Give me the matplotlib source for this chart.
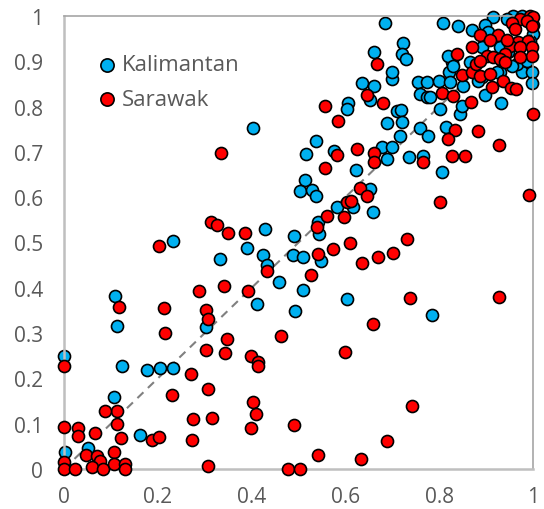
import numpy as np
from matplotlib import pyplot as plt

# Kalimantan (blue) points
kal_x = [0.233, 0.333, 0.390, 0.425, 0.433, 0.459, 0.489, 0.411, 0.109, 0.112,
         0.302, 0.000, 0.123, 0.178, 0.205, 0.233, 0.107, 0.162, 0.002, 0.052,
         0.490, 0.544, 0.510, 0.549, 0.510, 0.603, 0.785, 0.493, 0.429, 0.583,
         0.542, 0.635, 0.662, 0.652, 0.699, 0.755, 0.773, 0.758, 0.773, 0.605,
         0.603, 0.709, 0.718, 0.720, 0.688, 0.716, 0.759, 0.777, 0.537, 0.517,
         0.576, 0.677, 0.699, 0.688, 0.736, 0.766, 0.622, 0.514, 0.503, 0.528,
         0.537, 0.652, 0.617, 0.658, 0.685, 0.809, 0.841, 0.871, 0.722, 0.720,
         0.729, 0.662, 0.700, 0.800, 0.780, 0.802, 0.844, 0.814, 0.932, 0.805,
         0.848, 0.821, 0.930, 0.977, 0.997, 0.997, 0.965, 0.827, 0.915, 0.898,
         0.958, 0.976, 1.000, 0.994, 0.937, 0.955, 0.987, 0.819, 0.830, 0.866,
         0.891, 0.923, 0.402, 0.905, 0.891, 0.947, 0.883, 0.851, 0.930, 1.000,
         0.944, 0.823, 0.898]
kal_y = [0.504, 0.464, 0.487, 0.472, 0.450, 0.413, 0.472, 0.364, 0.383, 0.316,
         0.313, 0.250, 0.228, 0.219, 0.222, 0.224, 0.159, 0.076, 0.038, 0.046,
         0.515, 0.519, 0.467, 0.460, 0.396, 0.375, 0.341, 0.349, 0.530, 0.578,
         0.545, 0.852, 0.845, 0.815, 0.861, 0.854, 0.854, 0.828, 0.821, 0.808,
         0.795, 0.790, 0.793, 0.765, 0.763, 0.734, 0.752, 0.736, 0.723, 0.695,
         0.703, 0.711, 0.711, 0.684, 0.688, 0.692, 0.659, 0.638, 0.614, 0.616,
         0.602, 0.618, 0.578, 0.568, 0.985, 0.985, 0.977, 0.970, 0.940, 0.916,
         0.905, 0.920, 0.876, 0.857, 0.822, 0.795, 0.784, 0.754, 0.809, 0.655,
         0.802, 0.876, 0.876, 0.877, 0.876, 0.852, 0.894, 0.898, 0.997, 0.981,
         1.000, 1.000, 0.960, 0.945, 0.923, 0.890, 0.901, 0.912, 0.890, 0.898,
         0.865, 0.876, 0.752, 0.964, 0.931, 0.920, 0.857, 0.846, 0.931, 0.980,
         0.993, 0.854, 0.826]

# Sarawak (red) points
sar_x = [0.203, 0.433, 0.288, 0.342, 0.393, 0.117, 0.213, 0.216, 0.302, 0.308,
         0.302, 0.348, 0.344, 0.463, 0.000, 0.270, 0.398, 0.414, 0.414, 0.231,
         0.306, 0.114, 0.087, 0.112, 0.121, 0.404, 0.409, 0.398, 0.274, 0.315,
         0.272, 0.490, 0.000, 0.030, 0.030, 0.066, 0.187, 0.203, 0.046, 0.107,
         0.071, 0.077, 0.059, 0.083, 0.000, 0.000, 0.023, 0.107, 0.130, 0.131,
         0.306, 0.478, 0.503, 0.610, 0.731, 0.541, 0.574, 0.635, 0.669, 0.701,
         0.526, 0.738, 0.928, 0.659, 0.600, 0.743, 0.688, 0.541, 0.633, 0.313,
         0.327, 0.350, 0.386, 0.560, 0.596, 0.603, 0.540, 0.645, 0.680, 0.557,
         0.585, 0.583, 0.625, 0.662, 0.661, 0.765, 0.557, 0.631, 0.647, 0.611,
         0.667, 0.886, 0.807, 0.830, 0.868, 0.834, 0.818, 0.882, 0.827, 0.854,
         0.928, 0.802, 0.991, 0.999, 0.848, 0.869, 0.887, 0.908, 0.935, 0.912,
         0.953, 0.964, 0.933, 0.878, 0.994, 1.000, 0.972, 0.987, 0.955, 0.997,
         0.962, 0.969, 0.990, 0.951, 0.972, 0.997, 0.997, 0.926, 0.908, 0.944,
         0.869, 0.901, 0.887, 0.915, 0.940, 0.930, 0.940, 0.972, 0.837, 0.335]
sar_y = [0.492, 0.438, 0.394, 0.405, 0.394, 0.357, 0.355, 0.300, 0.351, 0.331,
         0.263, 0.287, 0.255, 0.293, 0.227, 0.209, 0.249, 0.236, 0.227, 0.163,
         0.176, 0.129, 0.129, 0.099, 0.068, 0.147, 0.121, 0.091, 0.110, 0.113,
         0.064, 0.097, 0.092, 0.090, 0.072, 0.079, 0.064, 0.070, 0.031, 0.038,
         0.028, 0.017, 0.004, 0.000, 0.016, 0.000, 0.000, 0.011, 0.011, 0.000,
         0.007, 0.000, 0.000, 0.500, 0.508, 0.475, 0.486, 0.455, 0.467, 0.477,
         0.429, 0.377, 0.380, 0.319, 0.259, 0.140, 0.062, 0.031, 0.022, 0.545,
         0.539, 0.521, 0.521, 0.559, 0.556, 0.589, 0.534, 0.826, 0.807, 0.802,
         0.769, 0.693, 0.706, 0.698, 0.678, 0.678, 0.664, 0.620, 0.602, 0.592,
         0.893, 0.958, 0.829, 0.824, 0.811, 0.749, 0.728, 0.746, 0.692, 0.690,
         0.715, 0.589, 0.604, 0.784, 0.870, 0.876, 0.868, 0.872, 0.857, 0.843,
         0.840, 0.839, 0.901, 0.894, 1.000, 0.997, 0.993, 0.988, 0.984, 0.979,
         0.971, 0.942, 0.945, 0.934, 0.931, 0.931, 0.912, 0.957, 0.946, 0.946,
         0.931, 0.912, 0.901, 0.909, 0.916, 0.905, 0.898, 0.909, 0.916, 0.698]

x_ticks = [0, 0.2, 0.4, 0.6, 0.8, 1]
y_ticks = [0, 0.1, 0.2, 0.3, 0.4, 0.5, 0.6, 0.7, 0.8, 0.9, 1]

blue = "#00B0F0"
red = "#FF0000"
grey_txt = "#595959"

plt.rcParams['font.family'] = ['Open Sans', 'DejaVu Sans']

fig = plt.figure(figsize=(5.44, 5.10), dpi=100)
ax = fig.add_axes([64 / 544, 1 - 470 / 510, 469 / 544, 453 / 510])

# 1:1 reference line
ax.plot([0, 1], [0, 1], color="#808080", lw=1.5, ls=(0, (4, 3)), zorder=1)

ax.scatter(kal_x, kal_y, s=75, color=blue, edgecolor="black", linewidth=1.2,
           zorder=2, clip_on=False, label="Kalimantan")
ax.scatter(sar_x, sar_y, s=75, color=red, edgecolor="black", linewidth=1.2,
           zorder=3, clip_on=False, label="Sarawak")

ax.set_xlim(0, 1)
ax.set_ylim(0, 1)
ax.set_xticks(x_ticks)
ax.set_xticklabels([f"{v:g}" for v in x_ticks])
ax.set_yticks(y_ticks)
ax.set_yticklabels([f"{v:g}" for v in y_ticks])
ax.tick_params(length=0, labelsize=15, colors=grey_txt)
ax.tick_params(axis="x", pad=12)
ax.tick_params(axis="y", pad=15)

for side in ["left", "bottom"]:
    ax.spines[side].set_color("#BFBFBF")
    ax.spines[side].set_linewidth(1.8)
for side in ["top", "right"]:
    ax.spines[side].set_color("#A6A6A6")
    ax.spines[side].set_linewidth(1.2)

leg = ax.legend(loc="upper left", bbox_to_anchor=(0.045, 0.935), frameon=False,
                fontsize=16, handletextpad=0.05, labelspacing=0.62,
                borderaxespad=0, handlelength=1.2, markerscale=1.1)
for t in leg.get_texts():
    t.set_color(grey_txt)

plt.savefig("out.png", dpi=100)
